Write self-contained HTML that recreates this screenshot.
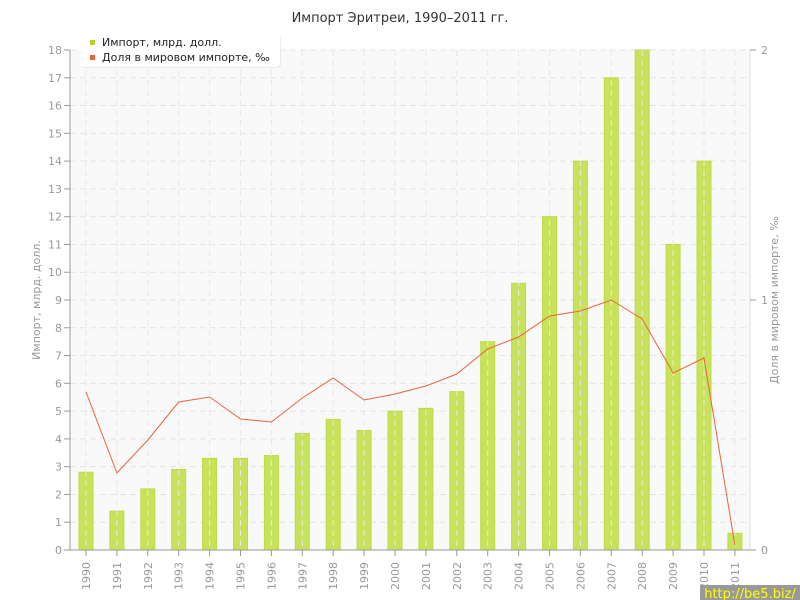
<!DOCTYPE html>
<html><head><meta charset="utf-8"><style>body{margin:0;background:#fff}svg{display:block;font-family:"DejaVu Sans","Liberation Sans",sans-serif}</style></head><body>
<svg width="800" height="600" xmlns="http://www.w3.org/2000/svg">
<rect width="800" height="600" fill="#fff"/>
<text x="400" y="22" text-anchor="middle" font-size="13" fill="#333">Импорт Эритреи, 1990–2011 гг.</text>
<rect x="70" y="50" width="680" height="500" fill="#f9f9f9"/>
<g id="hgrid" stroke="#e4e4e4" stroke-dasharray="6,4" stroke-width="1"></g>
<g id="bars"></g>
<g id="grid" stroke="#e8e8e8" stroke-dasharray="6,4" stroke-width="1"></g>
<polyline id="line" fill="none" stroke="#e8643c" stroke-width="1"/>
<line x1="70" y1="50" x2="70" y2="550" stroke="#999"/>
<line x1="70" y1="550" x2="750" y2="550" stroke="#999"/>
<line x1="750" y1="50" x2="750" y2="550" stroke="#ddd"/>
<g id="ticks" font-size="11" fill="#999"></g>
<text transform="translate(40,300) rotate(-90)" text-anchor="middle" font-size="11" fill="#999">Импорт, млрд. долл.</text>
<text transform="translate(778,300) rotate(-90)" text-anchor="middle" font-size="11" fill="#999">Доля в мировом импорте, ‰</text>
<rect x="81" y="35" width="200" height="33" rx="4" fill="#ddd" opacity="0.6"/>
<rect x="80" y="34" width="200" height="33" rx="4" fill="#fff"/>
<rect x="90" y="40" width="5" height="5" fill="#b5d52a"/>
<rect x="90" y="55" width="5" height="5" fill="#e8643c"/>
<text x="102" y="46" font-size="11" fill="#222">Импорт, млрд. долл.</text>
<text x="102" y="61" font-size="11" fill="#222">Доля в мировом импорте, ‰</text>
<rect x="700" y="585" width="100" height="15" fill="#999"/>
<text x="750" y="598" text-anchor="middle" font-size="13" fill="#ff0">http://be5.biz/</text>
</svg>
<script>
const ns="http://www.w3.org/2000/svg";
function el(p,t,a,tx){const e=document.createElementNS(ns,t);for(const k in a)e.setAttribute(k,a[k]);if(tx!==undefined)e.textContent=tx;document.getElementById(p).appendChild(e);return e;}
const vals=[2.8,1.4,2.2,2.9,3.3,3.3,3.4,4.2,4.7,4.3,5.0,5.1,5.7,7.5,9.6,12,14,17,18,11,14,0.6];
const ly=[392,473,440,402,397,419,422,398,378,400,394,386,374,349,337,316,311,300,319,373,358,545];
const sy=500/18;
for(let i=0;i<=18;i++){const y=550-i*sy;if(i>0)el("hgrid","line",{x1:70,x2:750,y1:y,y2:y});el("ticks","line",{x1:64,x2:70,y1:y,y2:y,stroke:"#999"});el("ticks","text",{x:62,y:y+4,"text-anchor":"end"},i);}
[0,1,2].forEach(v=>{const y=550-v*250;el("ticks","line",{x1:750,x2:756,y1:y,y2:y,stroke:"#999"});el("ticks","text",{x:761,y:y+4},v);});
let pts=[];
vals.forEach((v,i)=>{const cx=86+i*30.9;el("bars","rect",{x:cx-7,y:550-v*sy,width:14,height:v*sy,fill:"#c8e35a",stroke:"#bddb45"});el("grid","line",{x1:cx,x2:cx,y1:50,y2:550});
el("ticks","line",{x1:cx,x2:cx,y1:550,y2:556,stroke:"#999"});
el("ticks","text",{transform:`translate(${cx+4},562) rotate(-90)`,"text-anchor":"end"},1990+i);pts.push(cx+","+ly[i]);});
document.getElementById("line").setAttribute("points",pts.join(" "));
</script>
</body></html>
